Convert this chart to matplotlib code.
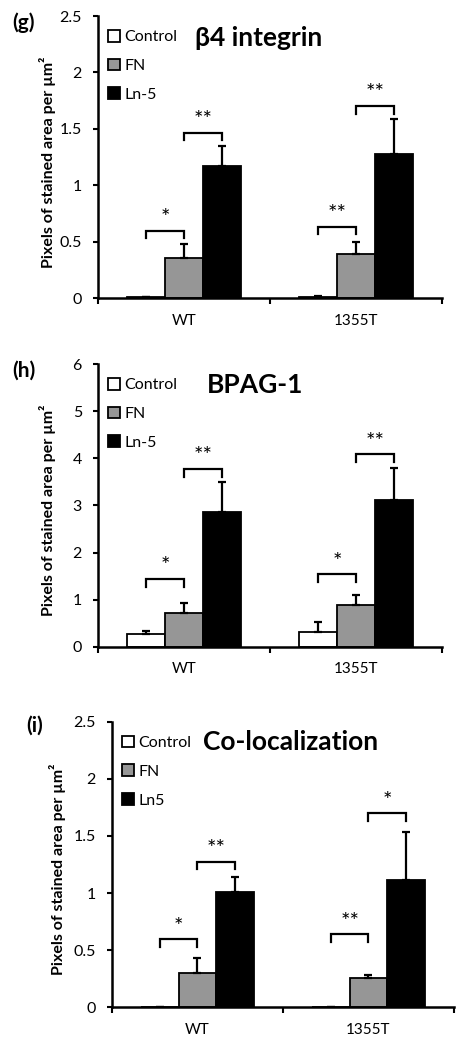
import matplotlib
matplotlib.use('Agg')
import matplotlib.pyplot as plt
import numpy as np

plt.rcParams['font.family'] = ['Lato', 'DejaVu Sans']

categories = ['WT', '1355T']

# Panel (g) beta4 integrin
g_control = [0.01, 0.012]
g_control_err = [0.004, 0.008]
g_fn = [0.355, 0.393]
g_fn_err = [0.123, 0.107]
g_ln = [1.175, 1.278]
g_ln_err = [0.174, 0.307]
g_brackets = [(0, 0, 1, 0.60, '*'), (0, 1, 2, 1.467, '**'),
              (1, 0, 1, 0.635, '**'), (1, 1, 2, 1.703, '**')]

# Panel (h) BPAG-1
h_control = [0.262, 0.318]
h_control_err = [0.078, 0.199]
h_fn = [0.72, 0.877]
h_fn_err = [0.214, 0.22]
h_ln = [2.86, 3.11]
h_ln_err = [0.63, 0.69]
h_brackets = [(0, 0, 1, 1.436, '*'), (0, 1, 2, 3.771, '**'),
              (1, 0, 1, 1.535, '*'), (1, 1, 2, 4.083, '**')]

# Panel (i) Co-localization
i_control = [0.005, 0.005]
i_control_err = [0.0, 0.0]
i_fn = [0.303, 0.26]
i_fn_err = [0.126, 0.02]
i_ln = [1.006, 1.111]
i_ln_err = [0.132, 0.426]
i_brackets = [(0, 0, 1, 0.595, '*'), (0, 1, 2, 1.275, '**'),
              (1, 0, 1, 0.639, '**'), (1, 1, 2, 1.698, '*')]

colors = ['white', '#969696', 'black']
ylabel = 'Pixels of stained area per µm²'

fig = plt.figure(figsize=(4.71, 10.47), dpi=100)

panels = [
    dict(rect=[0.208, 0.7151, 0.730, 0.2696], ymax=2.5, yticks=[0, 0.5, 1, 1.5, 2, 2.5],
         series=[(g_control, g_control_err), (g_fn, g_fn_err), (g_ln, g_ln_err)],
         labels=['Control', 'FN', 'Ln-5'], title='β4 integrin', tpos=(0.468, 0.922),
         brackets=g_brackets, tag='(g)', tagpos=(0.026, 0.978), ylx=0.10),
    dict(rect=[0.208, 0.3823, 0.730, 0.2700], ymax=6, yticks=[0, 1, 2, 3, 4, 5, 6],
         series=[(h_control, h_control_err), (h_fn, h_fn_err), (h_ln, h_ln_err)],
         labels=['Control', 'FN', 'Ln-5'], title='BPAG-1', tpos=(0.456, 0.926),
         brackets=h_brackets, tag='(h)', tagpos=(0.026, 0.646), ylx=0.10),
    dict(rect=[0.2378, 0.0379, 0.726, 0.2728], ymax=2.5, yticks=[0, 0.5, 1, 1.5, 2, 2.5],
         series=[(i_control, i_control_err), (i_fn, i_fn_err), (i_ln, i_ln_err)],
         labels=['Control', 'FN', 'Ln5'], title='Co-localization', tpos=(0.523, 0.930),
         brackets=i_brackets, tag='(i)', tagpos=(0.055, 0.307), ylx=0.123),
]

x = np.array([0.5, 1.5])
width = 0.22
offsets = [-width, 0, width]

for p in panels:
    ax = fig.add_axes(p['rect'])
    handles = []
    for k, ((vals, errs), col) in enumerate(zip(p['series'], colors)):
        xs = x + offsets[k]
        b = ax.bar(xs, vals, width, color=col, edgecolor='black', linewidth=1.3,
                   label=p['labels'][k], zorder=2)
        handles.append(b)
        ax.errorbar(xs, vals, yerr=[np.zeros(len(vals)), errs], fmt='none',
                    ecolor='black', elinewidth=1.6, capsize=3, capthick=1.6, zorder=3)
    ymax = p['ymax']
    leg = ymax * 0.027
    for (c, a, bidx, h, lab) in p['brackets']:
        x1 = x[c] + offsets[a]
        x2 = x[c] + offsets[bidx]
        ax.plot([x1, x1, x2, x2], [h - leg, h, h, h - leg], color='black', lw=1.6,
                solid_joinstyle='miter', zorder=3)
        ax.annotate(lab, xy=((x1 + x2) / 2, h), xytext=(0, 2), textcoords='offset points',
                    ha='center', va='bottom', fontsize=16)
    ax.set_xlim(0, 2)
    ax.set_ylim(0, ymax)
    ax.set_yticks(p['yticks'])
    ax.set_yticklabels([f'{t:g}' for t in p['yticks']], fontsize=11.5)
    ax.set_xticks([0, 1, 2])
    ax.set_xticklabels([])
    ax.set_xticks(x, minor=True)
    ax.set_xticklabels(categories, minor=True, fontsize=11)
    ax.tick_params(axis='x', which='major', direction='out', length=4, width=1.5)
    ax.tick_params(axis='x', which='minor', length=0, pad=11)
    ax.tick_params(axis='y', direction='out', length=3.5, width=1.5, pad=8)
    for s in ['top', 'right']:
        ax.spines[s].set_visible(False)
    for s in ['left', 'bottom']:
        ax.spines[s].set_linewidth(1.8)
    ax.text(p['tpos'][0], p['tpos'][1], p['title'], transform=ax.transAxes,
            ha='center', va='center', fontsize=19, fontweight='bold')
    ax.legend(handles=handles, loc='upper left', bbox_to_anchor=(0.0, 0.985),
              frameon=False, fontsize=11.5, handlelength=0.75, handleheight=0.75,
              handletextpad=0.3, labelspacing=0.9, borderaxespad=0.3, borderpad=0.3)
    fig.text(p['ylx'], p['rect'][1] + p['rect'][3] / 2 - 0.005, ylabel, rotation=90,
             ha='center', va='center', fontsize=11.5, fontweight='bold')
    fig.text(p['tagpos'][0], p['tagpos'][1], p['tag'], ha='left', va='center',
             fontsize=15, fontweight='bold')

fig.savefig('out.png', dpi=100, facecolor='white')
